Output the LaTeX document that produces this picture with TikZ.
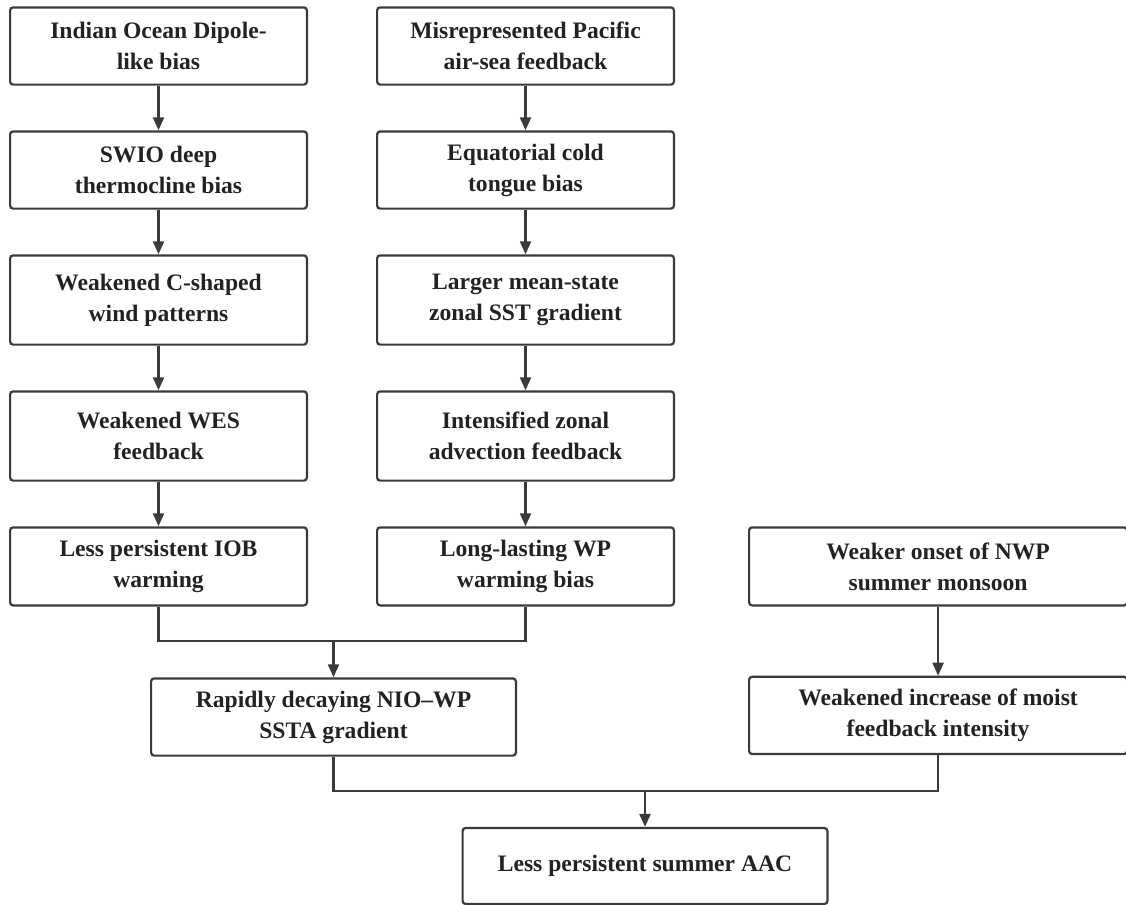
\documentclass[tikz,border=0pt]{standalone}
\usepackage{fontspec}
\setmainfont{Liberation Serif}
\usepackage{tikz}
\usetikzlibrary{positioning}
\usetikzlibrary{arrows.meta}
\definecolor{linegray}{HTML}{3A3A3A}
\definecolor{textgray}{HTML}{222222}
\tikzset{
  box/.style={draw=linegray,line width=1.1pt,rounded corners=1.5pt,align=center,
    minimum width=148.4pt,minimum height=38.6pt,inner sep=2pt,text=textgray,
    font=\bfseries\fontsize{11.8}{15.5}\selectfont},
  tallbox/.style={box,minimum height=44.6pt},
  widebox/.style={box,minimum width=182.4pt},
  link/.style={draw=linegray,line width=1.1pt},
  arr/.style={link,-{Triangle[length=6.5pt,width=5.5pt]}}
}

\begin{document}
\begin{tikzpicture}[x=0.5pt,y=-0.5pt,node distance=22.3pt]
  \useasboundingbox (0,0) rectangle (1126,905);
  % Indian Ocean chain
  \node[box] (iod) at (158.5,46) {Indian Ocean Dipole-\\like bias};
  \node[box,below=of iod] (swio) {SWIO deep\\thermocline bias};
  \node[tallbox,below=of swio] (cwind) {Weakened C-shaped\\wind patterns};
  \node[tallbox,below=of cwind] (wes) {Weakened WES\\feedback};
  \node[box,minimum height=39pt,below=of wes] (iob) {Less persistent IOB\\warming};
  % Pacific chain
  \node[box] (pac) at (525.5,46) {Misrepresented Pacific\\air-sea feedback};
  \node[box,below=of pac] (cold) {Equatorial cold\\tongue bias};
  \node[tallbox,below=of cold] (sst) {Larger mean-state\\zonal SST gradient};
  \node[tallbox,below=of sst] (zadv) {Intensified zonal\\advection feedback};
  \node[box,minimum height=39pt,below=of zadv] (wp) {Long-lasting WP\\warming bias};
  % monsoon chain
  \node[box,minimum width=189pt,minimum height=39pt,right=36.5pt of wp] (nwp) {Weaker onset of NWP\\summer monsoon};
  \node[box,minimum width=189pt,below=34.6pt of nwp] (moist) {Weakened increase of moist\\feedback intensity};
  % merged
  \node[widebox] (nio) at (333.5,717) {Rapidly decaying NIO--WP\\SSTA gradient};
  \node[widebox,minimum height=38pt] (aac) at (645,866) {Less persistent summer AAC};

  \foreach \a/\b in {iod/swio,swio/cwind,cwind/wes,wes/iob,
                     pac/cold,cold/sst,sst/zadv,zadv/wp,nwp/moist}
    \draw[arr] (\a) -- (\b);

  \coordinate (j1) at ([yshift=18pt]nio.north);
  \coordinate (j2) at ([yshift=18pt]aac.north);
  \draw[link] (iob.south) |- (j1) -| (wp.south);
  \draw[arr] (j1) -- (nio.north);
  \draw[link] (nio.south) |- (j2) -| (moist.south);
  \draw[arr] (j2) -- (aac.north);
\end{tikzpicture}
\end{document}
